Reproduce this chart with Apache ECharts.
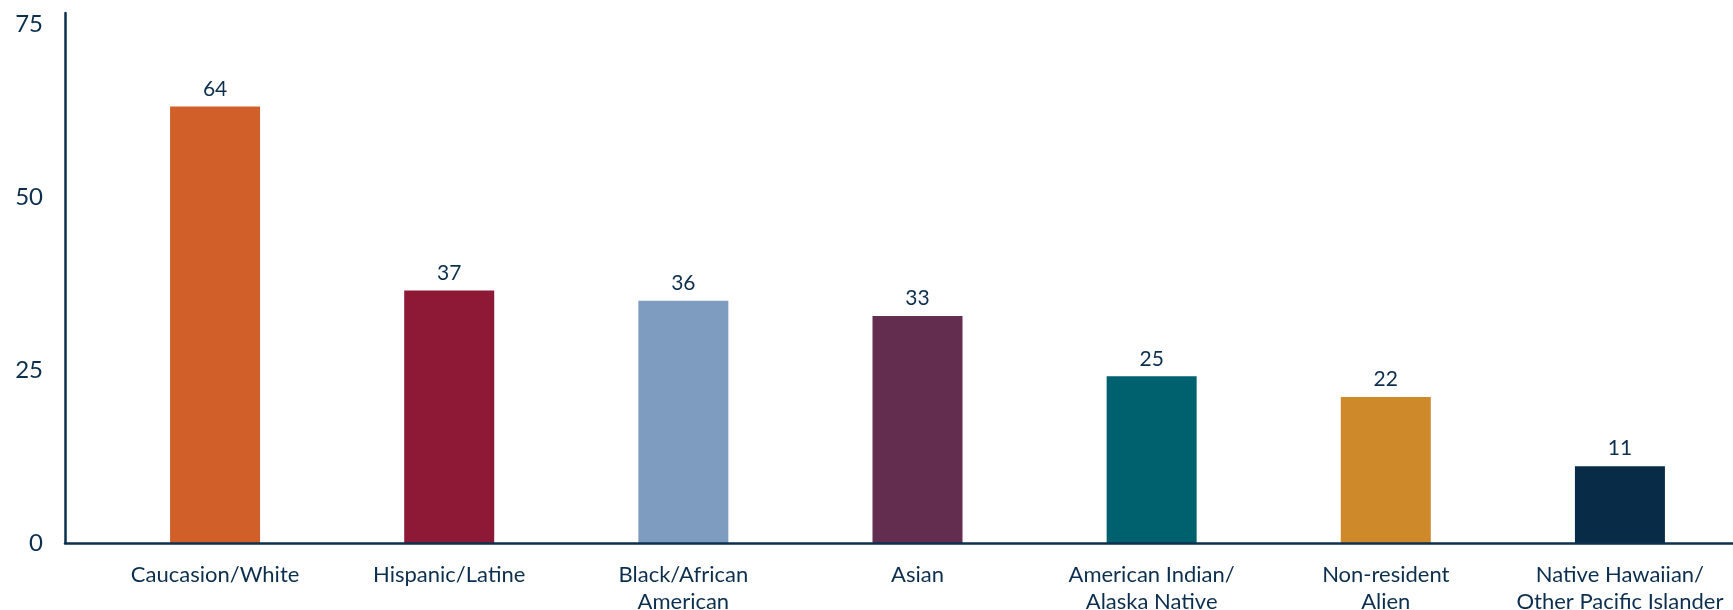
<!DOCTYPE html>
<html>
<head>
<meta charset="utf-8">
<script src="https://cdn.jsdelivr.net/npm/echarts@6/dist/echarts.min.js"></script>
<style>
html,body{margin:0;padding:0;background:#fff;}
#chart{width:1733px;height:610px;}
</style>
</head>
<body>
<div id="chart"></div>
<script>
var categories = ["Caucasion/White", "Hispanic/Latine", "Black/African\nAmerican", "Asian", "American Indian/\nAlaska Native", "Non-resident\nAlien", "Native Hawaiian/\nOther Pacific Islander"];
var values = [63.1, 36.5, 35.0, 32.8, 24.1, 21.1, 11.1];
var valueLabels = ["64", "37", "36", "33", "25", "22", "11"];
var colors = ["#D15F29", "#8D1937", "#7E9CBF", "#632D50", "#00616E", "#CE892B", "#082B48"];
var yTicks = [0, 25, 50, 75];

var textColor = "#0D2F4F";
var axisColor = "#0B3050";
var fontFamily = "Lato, 'Noto Sans', sans-serif";

var chart = echarts.init(document.getElementById('chart'), null, {renderer: 'canvas'});
var option = {
  animation: false,
  backgroundColor: '#ffffff',
  grid: [
    {left: 65, right: 0, top: 13, bottom: 67, containLabel: false, outerBoundsMode: 'none'},
    {left: 98, right: -4, top: 13, bottom: 67, containLabel: false, outerBoundsMode: 'none'}
  ],
  xAxis: [
    {
      gridIndex: 0, type: 'value', min: 0, max: 1, z: 1,
      axisLine: {show: true, lineStyle: {color: axisColor, width: 2.5}},
      axisTick: {show: false}, axisLabel: {show: false}, splitLine: {show: false}
    },
    {
      gridIndex: 1, type: 'category', data: categories,
      axisLine: {show: false}, axisTick: {show: false},
      axisLabel: {
        interval: 0, margin: 18, color: textColor, fontSize: 22, lineHeight: 27,
        fontFamily: fontFamily, align: 'center'
      }
    }
  ],
  yAxis: [
    {
      gridIndex: 0, type: 'value', min: 0, max: 76.6, interval: 25,
      axisLine: {show: true, lineStyle: {color: axisColor, width: 2.5}},
      axisTick: {show: false}, splitLine: {show: false},
      axisLabel: {
        margin: 22, color: textColor, fontSize: 24, fontFamily: fontFamily,
        formatter: function (v) { return yTicks.indexOf(v) >= 0 ? String(v) : ''; }
      }
    },
    {
      gridIndex: 1, type: 'value', min: 0, max: 76.6,
      show: false, splitLine: {show: false}
    }
  ],
  series: [{
    type: 'bar', xAxisIndex: 1, yAxisIndex: 1, barWidth: 90, z: 0,
    data: values.map(function (v, i) {
      return {value: v, itemStyle: {color: colors[i]}};
    }),
    label: {
      show: true, position: 'top', distance: 7, color: textColor,
      fontSize: 21, fontFamily: fontFamily,
      formatter: function (p) { return valueLabels[p.dataIndex]; }
    }
  }]
};
chart.setOption(option);
</script>
</body>
</html>
